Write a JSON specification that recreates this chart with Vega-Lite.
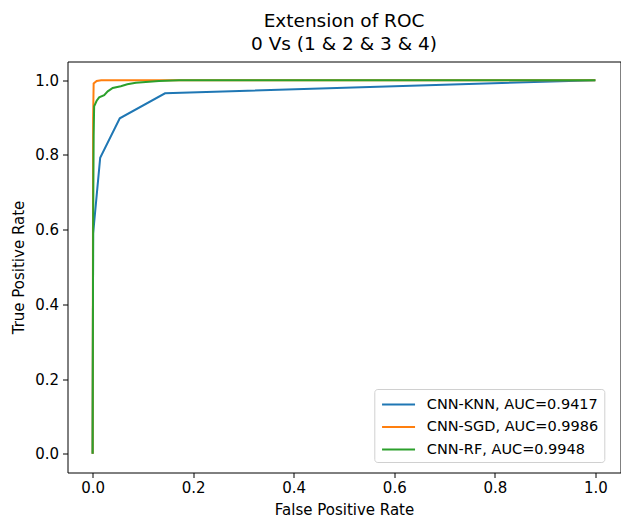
{
  "$schema": "https://vega.github.io/schema/vega-lite/v6.json",
  "autosize": "none",
  "width": 553,
  "height": 411,
  "padding": {"left": 67.5, "top": 61.5, "right": 0, "bottom": 46},
  "background": "white",
  "config": {
    "font": "DejaVu Sans",
    "view": {"stroke": "#000", "strokeWidth": 1},
    "axis": {"domain": false, "grid": false, "tickColor": "#000", "tickSize": 5, "labelColor": "#000", "labelFontSize": 15, "titleFontSize": 15, "titleFontWeight": "normal", "titleColor": "#000", "labelPadding": 3}
  },
  "title": {"text": ["Extension of ROC", "0 Vs (1 & 2 & 3 & 4)"], "fontSize": 18.5, "fontWeight": "normal", "color": "#000", "anchor": "middle", "offset": 8, "lineHeight": 22.7},
  "data": {"values": [
    {"model": "CNN-KNN, AUC=0.9417", "fpr": 0, "tpr": 0},
    {"model": "CNN-KNN, AUC=0.9417", "fpr": 0.001, "tpr": 0.59},
    {"model": "CNN-KNN, AUC=0.9417", "fpr": 0.015, "tpr": 0.792},
    {"model": "CNN-KNN, AUC=0.9417", "fpr": 0.054, "tpr": 0.898},
    {"model": "CNN-KNN, AUC=0.9417", "fpr": 0.144, "tpr": 0.965},
    {"model": "CNN-KNN, AUC=0.9417", "fpr": 1, "tpr": 1},
    {"model": "CNN-SGD, AUC=0.9986", "fpr": 0, "tpr": 0},
    {"model": "CNN-SGD, AUC=0.9986", "fpr": 0.001, "tpr": 0.9},
    {"model": "CNN-SGD, AUC=0.9986", "fpr": 0.002, "tpr": 0.991},
    {"model": "CNN-SGD, AUC=0.9986", "fpr": 0.008, "tpr": 0.998},
    {"model": "CNN-SGD, AUC=0.9986", "fpr": 0.017, "tpr": 1},
    {"model": "CNN-SGD, AUC=0.9986", "fpr": 1, "tpr": 1},
    {"model": "CNN-RF, AUC=0.9948", "fpr": 0, "tpr": 0},
    {"model": "CNN-RF, AUC=0.9948", "fpr": 0.001, "tpr": 0.6},
    {"model": "CNN-RF, AUC=0.9948", "fpr": 0.002, "tpr": 0.85},
    {"model": "CNN-RF, AUC=0.9948", "fpr": 0.003, "tpr": 0.93},
    {"model": "CNN-RF, AUC=0.9948", "fpr": 0.008, "tpr": 0.945},
    {"model": "CNN-RF, AUC=0.9948", "fpr": 0.013, "tpr": 0.954},
    {"model": "CNN-RF, AUC=0.9948", "fpr": 0.023, "tpr": 0.96},
    {"model": "CNN-RF, AUC=0.9948", "fpr": 0.03, "tpr": 0.97},
    {"model": "CNN-RF, AUC=0.9948", "fpr": 0.04, "tpr": 0.979},
    {"model": "CNN-RF, AUC=0.9948", "fpr": 0.056, "tpr": 0.984},
    {"model": "CNN-RF, AUC=0.9948", "fpr": 0.069, "tpr": 0.989},
    {"model": "CNN-RF, AUC=0.9948", "fpr": 0.086, "tpr": 0.993},
    {"model": "CNN-RF, AUC=0.9948", "fpr": 0.132, "tpr": 0.998},
    {"model": "CNN-RF, AUC=0.9948", "fpr": 0.172, "tpr": 1},
    {"model": "CNN-RF, AUC=0.9948", "fpr": 1, "tpr": 1}
  ]},
  "mark": {"type": "line", "strokeWidth": 2, "clip": true},
  "encoding": {
    "x": {"field": "fpr", "type": "quantitative", "title": "False Positive Rate",
      "scale": {"domain": [-0.05, 1.05], "nice": false, "zero": false},
      "axis": {"values": [0, 0.2, 0.4, 0.6, 0.8, 1.0], "format": ".1f", "titlePadding": 7}},
    "y": {"field": "tpr", "type": "quantitative", "title": "True Positive Rate",
      "scale": {"domain": [-0.05, 1.05], "nice": false, "zero": false},
      "axis": {"values": [0, 0.2, 0.4, 0.6, 0.8, 1.0], "format": ".1f", "titlePadding": 8, "labelPadding": 4}},
    "color": {"field": "model", "type": "nominal",
      "scale": {"domain": ["CNN-KNN, AUC=0.9417", "CNN-SGD, AUC=0.9986", "CNN-RF, AUC=0.9948"], "range": ["#1f77b4", "#ff7f0e", "#2ca02c"]},
      "legend": {"title": null, "orient": "none", "legendX": 306.8, "legendY": 327.5, "symbolType": "M-2,0H2", "symbolSize": 272, "symbolStrokeWidth": 2, "symbolOffset": 8.75, "labelFontSize": 14.5, "labelColor": "#000", "labelLimit": 400, "rowPadding": 6.5, "padding": 6, "strokeColor": "#d0d0d0", "cornerRadius": 3, "fillColor": "white", "labelOffset": 18.75}
    },
    "order": {"field": "fpr", "type": "quantitative"}
  }
}
